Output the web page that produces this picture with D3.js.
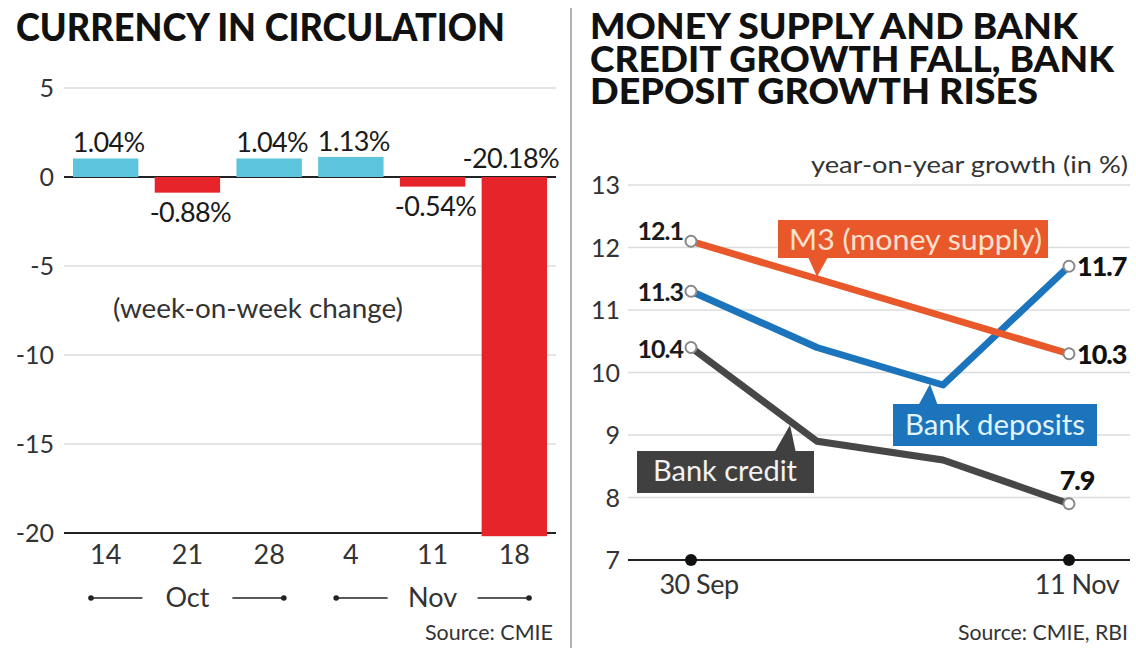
<!DOCTYPE html>
<html>
<head>
<meta charset="utf-8">
<script src="https://cdn.jsdelivr.net/npm/d3@7"></script>
<style>
  html, body { margin: 0; padding: 0; background: #fff; }
  svg { display: block; font-family: "Lato", "Open Sans", "Liberation Sans", sans-serif; }
</style>
</head>
<body>
<svg id="chart" width="1136" height="648"></svg>
<script>
// ---------- Left chart data ----------
const weekDays = ["14", "21", "28", "4", "11", "18"];
const weekChange = [1.04, -0.88, 1.04, 1.13, -0.54, -20.18];
const weekLabels = ["1.04%", "-0.88%", "1.04%", "1.13%", "-0.54%", "-20.18%"];
const leftTicks = [5, 0, -5, -10, -15, -20];
const monthNames = ["Oct", "Nov"];
const monthFirstWeek = ["14", "4"];
const monthLastWeek = ["28", "18"];
const monthMidWeek = ["21", "11"];

// ---------- Right chart data ----------
const dates = ["30 Sep", "14 Oct", "28 Oct", "11 Nov"];
const m3Supply = [12.1, 11.5, 10.9, 10.3];
const bankDeposits = [11.3, 10.4, 9.8, 11.7];
const bankCredit = [10.4, 8.9, 8.6, 7.9];
const rightTicks = [7, 8, 9, 10, 11, 12, 13];
const rightXTicks = ["30 Sep", "11 Nov"];

const svg = d3.select("#chart");
const hyphenFmt = d => String(d).replace("\u2212", "-");

// ================= LEFT CHART =================
const left = svg.append("g");

left.append("text")
  .attr("x", 16).attr("y", 41)
  .attr("font-size", 37).attr("font-weight", 900).attr("fill", "#111")
  .attr("textLength", 489).attr("lengthAdjust", "spacingAndGlyphs")
  .text("CURRENCY IN CIRCULATION");

const xL = d3.scaleBand().domain(weekDays).range([64, 556]).paddingInner(0.2).paddingOuter(0.11);
const yL = d3.scaleLinear().domain([-20, 5]).range([533, 88]);

// gridlines
left.append("g").selectAll("line").data(leftTicks).join("line")
  .attr("x1", 64).attr("x2", 556)
  .attr("y1", d => yL(d)).attr("y2", d => yL(d))
  .attr("stroke", d => (d === 0 || d === -20) ? "#222" : "#dcdcdc")
  .attr("stroke-width", d => (d === 0 || d === -20) ? 2 : 1.5);

// y tick labels via axis
const yAxisL = left.append("g").attr("transform", "translate(54,0)")
  .call(d3.axisLeft(yL).tickValues(leftTicks).tickSize(0).tickPadding(0).tickFormat(hyphenFmt));
yAxisL.select(".domain").remove();
yAxisL.selectAll("text").attr("font-size", 25).attr("fill", "#333").attr("font-family", "Lato, sans-serif").attr("dy", "0.35em");

// bars
left.append("g").selectAll("rect").data(weekChange).join("rect")
  .attr("x", (d, i) => xL(weekDays[i]))
  .attr("width", xL.bandwidth())
  .attr("y", d => d >= 0 ? yL(d) : yL(0))
  .attr("height", d => Math.abs(yL(d) - yL(0)))
  .attr("fill", d => d >= 0 ? "#5cc4dc" : "#e8242b");

// bar value labels
left.append("g").selectAll("text").data(weekChange).join("text")
  .attr("x", (d, i) => d < -10 ? xL(weekDays[i]) + xL.bandwidth() + 12 : xL(weekDays[i]) + xL.bandwidth() / 2 + 3)
  .attr("y", d => d >= 0 ? yL(d) - 6 : (d < -10 ? yL(0) - 9 : yL(d) + 29))
  .attr("text-anchor", d => d < -10 ? "end" : "middle")
  .attr("font-size", 27).attr("fill", "#1a1a1a").attr("letter-spacing", -0.6)
  .text((d, i) => weekLabels[i]);

// note
left.append("text").attr("x", 113).attr("y", 318)
  .attr("font-size", 26).attr("fill", "#333")
  .attr("textLength", 290).attr("lengthAdjust", "spacingAndGlyphs")
  .text("(week-on-week change)");

// x tick labels
const xAxisL = left.append("g").attr("transform", "translate(0,548)")
  .call(d3.axisBottom(xL).tickSize(0).tickPadding(0));
xAxisL.select(".domain").remove();
xAxisL.selectAll("text").attr("font-size", 27).attr("fill", "#333").attr("font-family", "Lato, sans-serif").attr("dy", "0.6em");

// month brackets
const mg = left.append("g");
monthNames.forEach((m, i) => {
  const x0 = xL(monthFirstWeek[i]) + 18;
  const x1 = xL(monthLastWeek[i]) + xL.bandwidth() - 18;
  const xc = xL(monthMidWeek[i]) + xL.bandwidth() / 2;
  const yy = 598;
  mg.append("line").attr("x1", x0).attr("x2", xc - 45).attr("y1", yy).attr("y2", yy).attr("stroke", "#222").attr("stroke-width", 1.5);
  mg.append("line").attr("x1", xc + 45).attr("x2", x1).attr("y1", yy).attr("y2", yy).attr("stroke", "#222").attr("stroke-width", 1.5);
  mg.append("circle").attr("cx", x0).attr("cy", yy).attr("r", 2.8).attr("fill", "#222");
  mg.append("circle").attr("cx", x1).attr("cy", yy).attr("r", 2.8).attr("fill", "#222");
  mg.append("text").attr("x", xc).attr("y", 607).attr("text-anchor", "middle")
    .attr("font-size", 27).attr("fill", "#333").text(m);
});

left.append("text").attr("x", 425).attr("y", 640)
  .attr("font-size", 21).attr("fill", "#333")
  .attr("textLength", 128).attr("lengthAdjust", "spacingAndGlyphs").text("Source: CMIE");

// divider
svg.append("line").attr("x1", 571).attr("x2", 571).attr("y1", 8).attr("y2", 648)
  .attr("stroke", "#999").attr("stroke-width", 1.5);

// ================= RIGHT CHART =================
const right = svg.append("g");
const titleLines = ["MONEY SUPPLY AND BANK", "CREDIT GROWTH FALL, BANK", "DEPOSIT GROWTH RISES"];
const titleWidths = [488, 524, 448];
const titleBase = [39, 72, 104];
titleLines.forEach((t, i) => {
  right.append("text").attr("x", 590).attr("y", titleBase[i])
    .attr("font-size", 36).attr("font-weight", 900).attr("fill", "#111")
    .attr("textLength", titleWidths[i]).attr("lengthAdjust", "spacingAndGlyphs")
    .text(t);
});

right.append("text").attr("x", 811).attr("y", 173)
  .attr("font-size", 24).attr("fill", "#333")
  .attr("textLength", 317).attr("lengthAdjust", "spacingAndGlyphs")
  .text("year-on-year growth (in %)");

const xR = d3.scalePoint().domain(dates).range([691, 1069]);
const yR = d3.scaleLinear().domain([7, 13]).range([560, 185]);

right.append("g").selectAll("line").data(rightTicks).join("line")
  .attr("x1", 628).attr("x2", 1130)
  .attr("y1", d => yR(d)).attr("y2", d => yR(d))
  .attr("stroke", d => d === 7 ? "#222" : "#dcdcdc")
  .attr("stroke-width", d => d === 7 ? 2 : 1.5);

const yAxisR = right.append("g").attr("transform", "translate(620,0)")
  .call(d3.axisLeft(yR).tickValues(rightTicks).tickSize(0).tickPadding(0).tickFormat(hyphenFmt));
yAxisR.select(".domain").remove();
yAxisR.selectAll("text").attr("font-size", 25).attr("fill", "#333").attr("font-family", "Lato, sans-serif").attr("dy", "0.35em");

// x-axis dots + labels
right.append("g").selectAll("circle").data(rightXTicks).join("circle")
  .attr("cx", d => xR(d)).attr("cy", yR(7)).attr("r", 6).attr("fill", "#111");
right.append("g").selectAll("text").data(rightXTicks).join("text")
  .attr("x", d => xR(d) + 8).attr("y", 594).attr("text-anchor", "middle")
  .attr("font-size", 27).attr("fill", "#333").attr("letter-spacing", -0.5).text(d => d);

right.append("text").attr("x", 958).attr("y", 640)
  .attr("font-size", 21).attr("fill", "#333")
  .attr("textLength", 170).attr("lengthAdjust", "spacingAndGlyphs").text("Source: CMIE, RBI");

const series = [
  { vals: bankCredit, color: "#474747" },
  { vals: bankDeposits, color: "#1c75bc" },
  { vals: m3Supply, color: "#e8582a" }
];
const line = d3.line().x((d, i) => xR(dates[i])).y(d => yR(d));

function callout(g, bx, by, bw, bh, px0, px1, tipx, tipy, pyBase, color, txt, tcolor, tx, ty, tsize, tlen) {
  g.append("path").attr("d", `M${px0},${pyBase} L${tipx},${tipy} L${px1},${pyBase} Z`).attr("fill", color);
  g.append("rect").attr("x", bx).attr("y", by).attr("width", bw).attr("height", bh).attr("fill", color);
  g.append("text").attr("x", tx).attr("y", ty)
    .attr("font-size", tsize).attr("fill", tcolor)
    .attr("textLength", tlen).attr("lengthAdjust", "spacingAndGlyphs").text(txt);
}

series.forEach(s => {
  right.append("path").datum(s.vals).attr("d", line)
    .attr("fill", "none").attr("stroke", s.color).attr("stroke-width", 7)
    .attr("stroke-linejoin", "round");
});

callout(right, 778, 220, 270, 38, 808, 828, xR("14 Oct"), yR(11.5) - 2, 257, "#e8582a",
  "M3 (money supply)", "#fbe0cf", 789, 250, 28, 253);
callout(right, 893, 404, 204, 42, 918, 938, 930, 384, 406, "#1c75bc",
  "Bank deposits", "#e2f4fb", 905, 435, 28, 180);
callout(right, 637, 451, 177, 42, 774, 796, 790, 425, 453, "#404040",
  "Bank credit", "#f2f2f2", 653, 481, 28, 144);

// end circles
series.forEach(s => {
  const ends = [0, s.vals.length - 1];
  right.append("g").selectAll("circle").data(ends).join("circle")
    .attr("cx", i => xR(dates[i])).attr("cy", i => yR(s.vals[i])).attr("r", 5.5)
    .attr("fill", "#fff").attr("stroke", "#888").attr("stroke-width", 2);
});

// value labels
const startLabels = [
  { v: m3Supply[0], dy: -1 },
  { v: bankDeposits[0], dy: 10 },
  { v: bankCredit[0], dy: 10 }
];
right.append("g").selectAll("text").data(startLabels).join("text")
  .attr("x", 683).attr("y", d => yR(d.v) + d.dy).attr("text-anchor", "end")
  .attr("font-size", 25).attr("font-weight", 700).attr("fill", "#1a1a1a").attr("letter-spacing", -1)
  .text(d => d3.format(".1f")(d.v));

const endLabels = [
  { v: m3Supply[3], x: 1077, dy: 10, anchor: "start" },
  { v: bankDeposits[3], x: 1077, dy: 10, anchor: "start" },
  { v: bankCredit[3], x: 1077, dy: -14, anchor: "middle" }
];
right.append("g").selectAll("text").data(endLabels).join("text")
  .attr("x", d => d.x).attr("y", d => yR(d.v) + d.dy).attr("text-anchor", d => d.anchor)
  .attr("font-size", 27).attr("font-weight", 900).attr("fill", "#111").attr("letter-spacing", -1)
  .text(d => d3.format(".1f")(d.v));
</script>
</body>
</html>
